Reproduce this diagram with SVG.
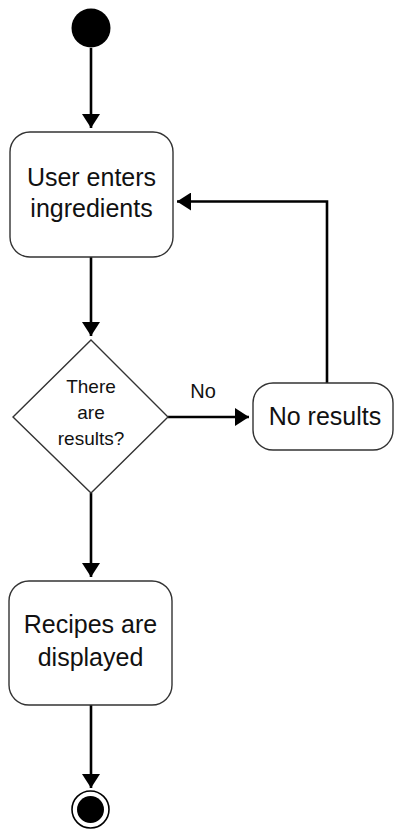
<svg xmlns="http://www.w3.org/2000/svg" width="394" height="829" viewBox="0 0 394 829">
<defs>
<style>
.node{fill:#fff;stroke:#333;stroke-width:1.4}
.lbl{font-family:"Liberation Sans",Arial,sans-serif;fill:#111;text-anchor:middle}
.big{font-size:25px}
.small{font-size:19px}
.conn{fill:none;stroke:#000;stroke-width:2.6}
</style>
<marker id="arr" viewBox="0 0 14 18" refX="14" refY="9" markerWidth="14" markerHeight="18" markerUnits="userSpaceOnUse" orient="auto">
<path d="M0,0 L14,9 L0,18 z" fill="#000"/>
</marker>
</defs>
<rect width="394" height="829" fill="#fff"/>
<g id="connectors">
<path class="conn" d="M91,48 V128" marker-end="url(#arr)"/>
<path class="conn" d="M91,257 V336" marker-end="url(#arr)"/>
<path class="conn" d="M91,493 V577" marker-end="url(#arr)"/>
<path class="conn" d="M91,705 V788" marker-end="url(#arr)"/>
<path class="conn" d="M168,417 H249" marker-end="url(#arr)"/>
<path class="conn" d="M327,383 V201.5 H177" marker-end="url(#arr)"/>
<text class="lbl" style="font-size:20px" x="203" y="398">No</text>
</g>
<g id="start">
<circle cx="91" cy="28" r="19.5" fill="#000"/>
</g>
<g id="enter">
<rect class="node" x="10" y="132" width="163" height="125" rx="20"/>
<text class="lbl big" x="91.5" y="186">User enters</text>
<text class="lbl big" x="91.5" y="217">ingredients</text>
</g>
<g id="decision">
<polygon class="node" points="91,340 168,417 91,493 13,417"/>
<text class="lbl small" x="91" y="393">There</text>
<text class="lbl small" x="91" y="419">are</text>
<text class="lbl small" x="91" y="445">results?</text>
</g>
<g id="noresults">
<rect class="node" x="253" y="383" width="140" height="67" rx="20"/>
<text class="lbl big" x="325" y="425">No results</text>
</g>
<g id="recipes">
<rect class="node" x="9" y="581" width="163" height="124" rx="20"/>
<text class="lbl big" x="90.5" y="633">Recipes are</text>
<text class="lbl big" x="90.5" y="666">displayed</text>
</g>
<g id="end">
<circle cx="90.5" cy="809.5" r="18.5" fill="#fff" stroke="#000" stroke-width="1.6"/>
<circle cx="90.5" cy="809.5" r="13.5" fill="#000"/>
</g>
</svg>
